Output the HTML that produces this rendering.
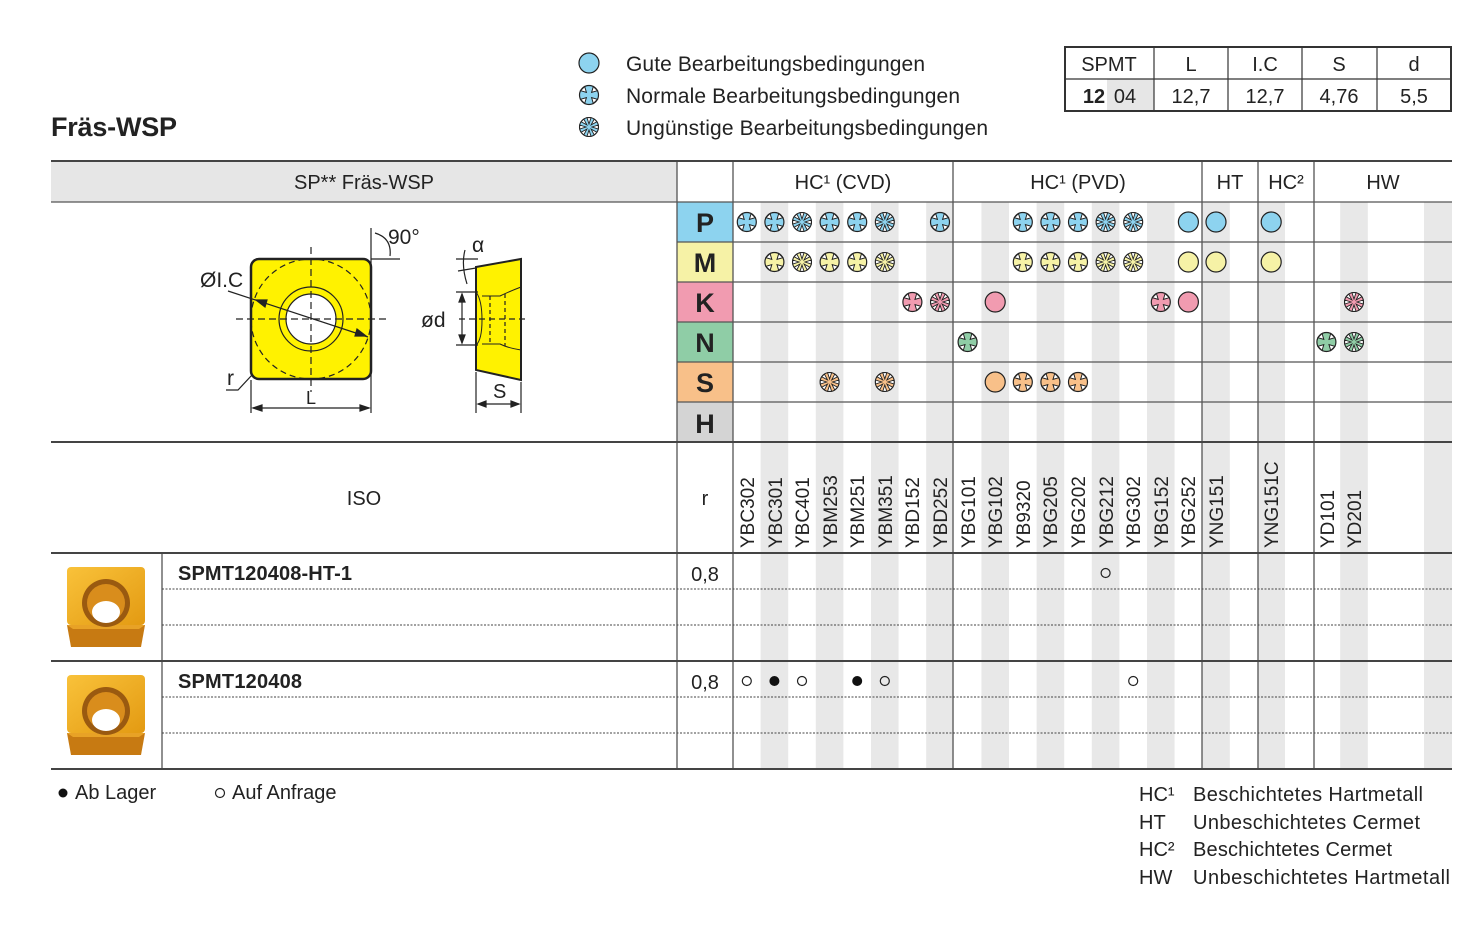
<!DOCTYPE html>
<html><head><meta charset="utf-8"><style>
html,body{margin:0;padding:0;background:#fff}
svg{display:block}
text{font-family:"Liberation Sans",sans-serif;fill:#222}
</style></head><body>
<svg width="1480" height="935" viewBox="0 0 1480 935" xmlns="http://www.w3.org/2000/svg">
<defs>
<g id="s4" stroke="#222" stroke-width="1.2">
<circle r="9.5"/>
<path d="M8.46 -4.31 L2.6 -2.6 L4.31 -8.46 Z M-8.46 -4.31 L-2.6 -2.6 L-4.31 -8.46 Z M8.46 4.31 L2.6 2.6 L4.31 8.46 Z M-8.46 4.31 L-2.6 2.6 L-4.31 8.46 Z" fill="#fff" stroke-width="1"/>
</g>
<g id="s8" stroke="#222" stroke-width="1.1">
<circle r="9.5"/>
<path d="M-2 -9.3 L0 -3 L2 -9.3 Z M-2 9.3 L0 3 L2 9.3 Z M-9.3 -2 L-3 0 L-9.3 2 Z M9.3 -2 L3 0 L9.3 2 Z M5.2 -7.9 L2.1 -2.1 L7.9 -5.2 Z M-5.2 -7.9 L-2.1 -2.1 L-7.9 -5.2 Z M5.2 7.9 L2.1 2.1 L7.9 5.2 Z M-5.2 7.9 L-2.1 2.1 L-7.9 5.2 Z" fill="#fff" stroke-width="0.9"/>
</g>
<g id="s0"><circle r="10" stroke="#222" stroke-width="1.2"/></g>
<linearGradient id="ins" x1="0" y1="0" x2="1" y2="1"><stop offset="0" stop-color="#f9c23a"/><stop offset="1" stop-color="#e39a12"/></linearGradient>
<g id="insert">
<rect x="0" y="0" width="78" height="58" rx="4" fill="url(#ins)"/>
<path d="M0 58 L78 58 L74 80 L4 80 Z" fill="#c77a12"/>
<path d="M0 58 L78 58 L72 62 L6 62 Z" fill="#e8a226"/>
<ellipse cx="39" cy="36" rx="24" ry="24" fill="#9a5a10"/>
<ellipse cx="39" cy="36" rx="19" ry="19" fill="#d98d1c"/>
<ellipse cx="39" cy="45" rx="14" ry="11" fill="#fff"/>
</g>
</defs>

<text x="51" y="136" font-size="27" font-weight="bold" textLength="126">Fräs-WSP</text>

<circle cx="589" cy="63" r="10" fill="#8dd3ef" stroke="#222" stroke-width="1.2"/>
<use href="#s4" x="589" y="95" fill="#8dd3ef"/>
<use href="#s8" x="589" y="127" fill="#8dd3ef"/>
<text x="626" y="71" font-size="21" textLength="299">Gute Bearbeitungsbedingungen</text>
<text x="626" y="103" font-size="21" textLength="334">Normale Bearbeitungsbedingungen</text>
<text x="626" y="135" font-size="21" textLength="362">Ungünstige Bearbeitungsbedingungen</text>

<rect x="1107" y="79" width="47" height="32" fill="#e6e6e6"/>
<rect x="1065" y="47" width="386" height="64" fill="none" stroke="#333" stroke-width="2"/>
<line x1="1065" y1="79" x2="1451" y2="79" stroke="#333" stroke-width="1.2"/>
<g stroke="#333" stroke-width="1.2">
<line x1="1154" y1="47" x2="1154" y2="111"/><line x1="1228" y1="47" x2="1228" y2="111"/>
<line x1="1302" y1="47" x2="1302" y2="111"/><line x1="1377" y1="47" x2="1377" y2="111"/>
</g>
<g font-size="20" text-anchor="middle">
<text x="1109" y="71">SPMT</text><text x="1191" y="71">L</text><text x="1265" y="71">I.C</text><text x="1339" y="71">S</text><text x="1414" y="71">d</text>
<text x="1094" y="103" font-weight="bold">12</text><text x="1125" y="103">04</text>
<text x="1191" y="103">12,7</text><text x="1265" y="103">12,7</text><text x="1339" y="103">4,76</text><text x="1414" y="103">5,5</text>
</g>

<rect x="51" y="162" width="626" height="40" fill="#e6e6e6"/>

<g fill="#e8e8e8">
<rect x="760.6" y="202" width="27.6" height="567"/>
<rect x="815.8" y="202" width="27.6" height="567"/>
<rect x="871" y="202" width="27.6" height="567"/>
<rect x="926.2" y="202" width="27.6" height="567"/>
<rect x="981.4" y="202" width="27.6" height="567"/>
<rect x="1036.6" y="202" width="27.6" height="567"/>
<rect x="1091.8" y="202" width="27.6" height="567"/>
<rect x="1147" y="202" width="27.6" height="567"/>
<rect x="1202.2" y="202" width="27.6" height="567"/>
<rect x="1257.4" y="202" width="27.6" height="567"/>
<rect x="1340.2" y="202" width="27.6" height="567"/>
<rect x="1424" y="202" width="28" height="567"/>
</g>

<rect x="677" y="202" width="56" height="40" fill="#8dd3ef"/>
<rect x="677" y="242" width="56" height="40" fill="#f6f2a6"/>
<rect x="677" y="282" width="56" height="40" fill="#f19bb0"/>
<rect x="677" y="322" width="56" height="40" fill="#8fcda6"/>
<rect x="677" y="362" width="56" height="40" fill="#f8c089"/>
<rect x="677" y="402" width="56" height="40" fill="#d4d4d4"/>
<g font-size="27" font-weight="bold" text-anchor="middle">
<text x="705" y="232">P</text><text x="705" y="272">M</text><text x="705" y="312">K</text>
<text x="705" y="352">N</text><text x="705" y="392">S</text><text x="705" y="433">H</text>
</g>

<g stroke="#555" stroke-width="1.3">
<line x1="677" y1="242" x2="1452" y2="242"/><line x1="677" y1="282" x2="1452" y2="282"/>
<line x1="677" y1="322" x2="1452" y2="322"/><line x1="677" y1="362" x2="1452" y2="362"/>
<line x1="677" y1="402" x2="1452" y2="402"/>
<line x1="51" y1="202" x2="1452" y2="202"/>
<line x1="677" y1="162" x2="677" y2="769"/><line x1="733" y1="162" x2="733" y2="769"/>
<line x1="953" y1="162" x2="953" y2="769"/><line x1="1202" y1="162" x2="1202" y2="769"/>
<line x1="1258" y1="162" x2="1258" y2="769"/><line x1="1314" y1="162" x2="1314" y2="769"/>
<line x1="162" y1="553" x2="162" y2="769"/>
</g>
<g stroke="#444" stroke-width="2">
<line x1="51" y1="161" x2="1452" y2="161"/>
<line x1="51" y1="442" x2="1452" y2="442"/>
<line x1="51" y1="553" x2="1452" y2="553"/>
<line x1="51" y1="661" x2="1452" y2="661"/>
<line x1="51" y1="769" x2="1452" y2="769"/>
</g>
<g stroke="#444" stroke-width="1" stroke-dasharray="2,1.5">
<line x1="162" y1="589" x2="1452" y2="589"/><line x1="162" y1="625" x2="1452" y2="625"/>
<line x1="162" y1="697" x2="1452" y2="697"/><line x1="162" y1="733" x2="1452" y2="733"/>
</g>

<g font-size="20" text-anchor="middle">
<text x="364" y="189">SP** Fräs-WSP</text>
<text x="843" y="189">HC¹ (CVD)</text>
<text x="1078" y="189">HC¹ (PVD)</text>
<text x="1230" y="189">HT</text>
<text x="1286" y="189">HC²</text>
<text x="1383" y="189">HW</text>
<text x="364" y="505">ISO</text>
<text x="705" y="505">r</text>
</g>

<g font-size="19">
<text transform="translate(754,548) rotate(-90)">YBC302</text>
<text transform="translate(782,548) rotate(-90)">YBC301</text>
<text transform="translate(809,548) rotate(-90)">YBC401</text>
<text transform="translate(837,548) rotate(-90)">YBM253</text>
<text transform="translate(864,548) rotate(-90)">YBM251</text>
<text transform="translate(892,548) rotate(-90)">YBM351</text>
<text transform="translate(919,548) rotate(-90)">YBD152</text>
<text transform="translate(947,548) rotate(-90)">YBD252</text>
<text transform="translate(975,548) rotate(-90)">YBG101</text>
<text transform="translate(1002,548) rotate(-90)">YBG102</text>
<text transform="translate(1030,548) rotate(-90)">YB9320</text>
<text transform="translate(1057,548) rotate(-90)">YBG205</text>
<text transform="translate(1085,548) rotate(-90)">YBG202</text>
<text transform="translate(1113,548) rotate(-90)">YBG212</text>
<text transform="translate(1140,548) rotate(-90)">YBG302</text>
<text transform="translate(1168,548) rotate(-90)">YBG152</text>
<text transform="translate(1195,548) rotate(-90)">YBG252</text>
<text transform="translate(1223,548) rotate(-90)">YNG151</text>
<text transform="translate(1278,548) rotate(-90)">YNG151C</text>
<text transform="translate(1334,548) rotate(-90)">YD101</text>
<text transform="translate(1361,548) rotate(-90)">YD201</text>
</g>

<g fill="#8dd3ef">
<use href="#s4" x="746.8" y="222"/><use href="#s4" x="774.4" y="222"/><use href="#s8" x="802" y="222"/>
<use href="#s4" x="829.6" y="222"/><use href="#s4" x="857.2" y="222"/><use href="#s8" x="884.8" y="222"/>
<use href="#s4" x="940" y="222"/>
<use href="#s4" x="1022.8" y="222"/><use href="#s4" x="1050.4" y="222"/><use href="#s4" x="1078" y="222"/>
<use href="#s8" x="1105.6" y="222"/><use href="#s8" x="1133.2" y="222"/>
<use href="#s0" x="1188.4" y="222"/><use href="#s0" x="1216" y="222"/><use href="#s0" x="1271.2" y="222"/>
</g>
<g fill="#f6f2a6">
<use href="#s4" x="774.4" y="262"/><use href="#s8" x="802" y="262"/>
<use href="#s4" x="829.6" y="262"/><use href="#s4" x="857.2" y="262"/><use href="#s8" x="884.8" y="262"/>
<use href="#s4" x="1022.8" y="262"/><use href="#s4" x="1050.4" y="262"/><use href="#s4" x="1078" y="262"/>
<use href="#s8" x="1105.6" y="262"/><use href="#s8" x="1133.2" y="262"/>
<use href="#s0" x="1188.4" y="262"/><use href="#s0" x="1216" y="262"/><use href="#s0" x="1271.2" y="262"/>
</g>
<g fill="#f19bb0">
<use href="#s4" x="912.4" y="302"/><use href="#s8" x="940" y="302"/>
<use href="#s0" x="995.2" y="302"/>
<use href="#s4" x="1160.8" y="302"/><use href="#s0" x="1188.4" y="302"/>
<use href="#s8" x="1354" y="302"/>
</g>
<g fill="#8fcda6">
<use href="#s4" x="967.6" y="342"/>
<use href="#s4" x="1326.4" y="342"/><use href="#s8" x="1354" y="342"/>
</g>
<g fill="#f8c089">
<use href="#s8" x="829.6" y="382"/><use href="#s8" x="884.8" y="382"/>
<use href="#s0" x="995.2" y="382"/>
<use href="#s4" x="1022.8" y="382"/><use href="#s4" x="1050.4" y="382"/><use href="#s4" x="1078" y="382"/>
</g>

<use href="#insert" x="67" y="567"/>
<use href="#insert" x="67" y="675"/>
<g font-size="20" font-weight="bold">
<text x="178" y="580" textLength="174">SPMT120408-HT-1</text>
<text x="178" y="688" textLength="124">SPMT120408</text>
</g>
<g font-size="20" text-anchor="middle">
<text x="705" y="581">0,8</text><text x="705" y="689">0,8</text>
</g>
<g stroke="#222" stroke-width="1.2" fill="none">
<circle cx="1105.6" cy="573" r="4.5"/>
<circle cx="746.8" cy="681" r="4.5"/><circle cx="802" cy="681" r="4.5"/>
<circle cx="884.8" cy="681" r="4.5"/><circle cx="1133.2" cy="681" r="4.5"/>
</g>
<circle cx="774.4" cy="681" r="5" fill="#111"/><circle cx="857.2" cy="681" r="5" fill="#111"/>

<g stroke="#222" stroke-width="1.2" fill="none">
<rect x="251" y="259" width="120" height="120" rx="8" fill="#fff200" stroke-width="2.5"/>
<circle cx="311" cy="319" r="60" stroke-dasharray="6,4"/>
<circle cx="311" cy="319" r="32"/>
<circle cx="311" cy="319" r="25" fill="#fff"/>
<line x1="311" y1="247" x2="311" y2="392" stroke-dasharray="7,4"/>
<line x1="236" y1="319" x2="388" y2="319" stroke-dasharray="7,4"/>
<line x1="228" y1="291" x2="368" y2="337"/>
<path d="M366 336 L357 329 L355 336 Z" fill="#222"/>
<path d="M256 300 L265 307 L267 300 Z" fill="#222"/>
<line x1="371" y1="228" x2="371" y2="413"/>
<line x1="371" y1="259" x2="400" y2="259"/>
<path d="M375 233 Q392 238 390 256"/>
<line x1="251" y1="380" x2="251" y2="413"/>
<line x1="253" y1="408" x2="369" y2="408"/>
<path d="M253 408 L262 405 L262 411 Z M369 408 L360 405 L360 411 Z" fill="#222"/>
<path d="M226 390 L238 390 L252 375"/>
<path d="M476 267 L521 259 L521 380 L476 370 Z" fill="#fff200" stroke-width="2"/>
<path d="M476 292 Q482 300 482 320 Q482 340 476 345" stroke-width="1"/>
<path d="M482 296 L500 296 Q508 292 521 287 M482 344 L500 344 Q508 348 521 350" stroke-width="1"/>
<line x1="490" y1="296" x2="490" y2="344" stroke-dasharray="4,3"/>
<line x1="505" y1="294" x2="505" y2="346" stroke-dasharray="4,3"/>
<line x1="459" y1="319" x2="528" y2="319" stroke-dasharray="6,4"/>
<line x1="456" y1="292" x2="478" y2="292"/><line x1="456" y1="345" x2="478" y2="345"/>
<line x1="462" y1="294" x2="462" y2="343"/>
<path d="M462 294 L459 302 L465 302 Z M462 343 L459 335 L465 335 Z" fill="#222"/>
<line x1="456" y1="259" x2="478" y2="259"/>
<line x1="458" y1="271" x2="476" y2="268"/>
<path d="M465 250 Q461 265 467 284"/>
<line x1="476" y1="372" x2="476" y2="413"/><line x1="521" y1="382" x2="521" y2="413"/>
<line x1="478" y1="404" x2="519" y2="404"/>
<path d="M478 404 L486 401 L486 407 Z M519 404 L511 401 L511 407 Z" fill="#222"/>
</g>
<g font-size="21">
<text x="200" y="287">ØI.C</text>
<text x="388" y="244">90°</text>
<text x="472" y="252">α</text>
<text x="421" y="327">ød</text>
<text x="227" y="385">r</text>
<text x="306" y="404" font-size="18">L</text>
<text x="493" y="398" font-size="20">S</text>
</g>

<circle cx="63" cy="793" r="4.5" fill="#111"/>
<text x="75" y="799" font-size="20">Ab Lager</text>
<circle cx="220" cy="793" r="4.5" fill="none" stroke="#222" stroke-width="1.2"/>
<text x="232" y="799" font-size="20">Auf Anfrage</text>
<g font-size="20">
<text x="1139" y="801">HC¹</text><text x="1193" y="801" textLength="230">Beschichtetes Hartmetall</text>
<text x="1139" y="829">HT</text><text x="1193" y="829" textLength="227">Unbeschichtetes Cermet</text>
<text x="1139" y="856">HC²</text><text x="1193" y="856" textLength="199">Beschichtetes Cermet</text>
<text x="1139" y="884">HW</text><text x="1193" y="884" textLength="257">Unbeschichtetes Hartmetall</text>
</g>
</svg>
</body></html>
